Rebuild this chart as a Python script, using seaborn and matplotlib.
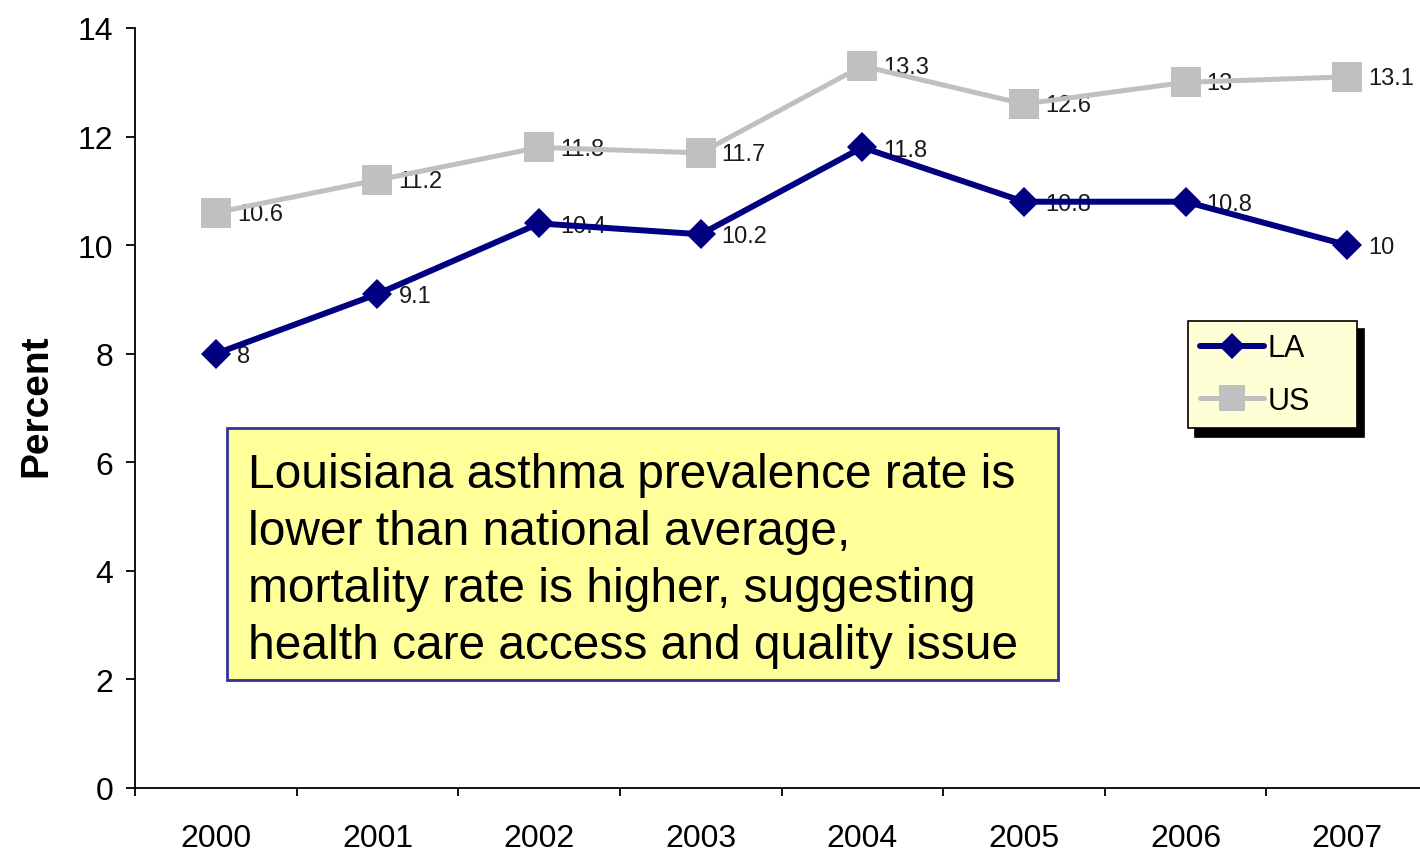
import numpy as np
import pandas as pd
import matplotlib
matplotlib.use('Agg')
import matplotlib.pyplot as plt
from matplotlib.patches import Rectangle
import seaborn as sns

#%% data
years = ['2000', '2001', '2002', '2003', '2004', '2005', '2006', '2007']
la_vals = [8, 9.1, 10.4, 10.2, 11.8, 10.8, 10.8, 10]
us_vals = [10.6, 11.2, 11.8, 11.7, 13.3, 12.6, 13, 13.1]
yticks = [0, 2, 4, 6, 8, 10, 12, 14]
note = ("Louisiana asthma prevalence rate is\n"
        "lower than national average,\n"
        "mortality rate is higher, suggesting\n"
        "health care access and quality issue")

df_la = pd.DataFrame({'pos': np.arange(len(years)), 'val': la_vals})
df_us = pd.DataFrame({'pos': np.arange(len(years)), 'val': us_vals})

#%% style
sns.set_style('ticks')
plt.rcParams['font.family'] = ['Liberation Sans', 'DejaVu Sans']

W, H = 1420, 854
fig = plt.figure(figsize=(W/100, H/100), dpi=100)
ax = fig.add_axes([135/W, 1-789/H, (W-135)/W, (789-29)/H])

navy = '#000080'
grey = '#c0c0c0'

sns.lineplot(data=df_us, x='pos', y='val', ax=ax, color=grey, linewidth=3.6,
             marker='s', markersize=21, markeredgewidth=0, label='US', zorder=3)
sns.lineplot(data=df_la, x='pos', y='val', ax=ax, color=navy, linewidth=4.3,
             marker='D', markersize=15, markeredgewidth=0, label='LA', zorder=4)

# data labels (drawn under the lines like the original)
for i, v in enumerate(us_vals):
    ax.text(i + 0.13, v - 0.02, f'{v:g}', fontsize=17, color='#1a1a1a',
            ha='left', va='center', zorder=2)
for i, v in enumerate(la_vals):
    ax.text(i + 0.13, v - 0.04, f'{v:g}', fontsize=17, color='#1a1a1a',
            ha='left', va='center', zorder=2)

ax.set_xlim(-0.5, 7.45)
ax.set_ylim(0, 14)
ax.set_yticks(yticks)
ax.set_yticklabels([str(t) for t in yticks], fontsize=23, color='black')
ax.set_xticks(np.arange(-0.5, 7.5, 1))
ax.set_xticklabels([])
ax.set_xticks(np.arange(len(years)), minor=True)
ax.set_xticklabels(years, minor=True, fontsize=23, color='black')
ax.tick_params(axis='x', which='major', length=6, width=1.3, direction='out', color='black')
ax.tick_params(axis='x', which='minor', length=0, pad=25)
ax.tick_params(axis='y', length=6.5, width=1.3, direction='out', pad=9, color='black')
sns.despine(ax=ax)
for s in ['left', 'bottom']:
    ax.spines[s].set_linewidth(1.3)
    ax.spines[s].set_color('black')
ax.set_xlabel('')
ax.set_ylabel('')
fig.text(36/W, 1-406/H, 'Percent', rotation=90, ha='center', va='center',
         fontsize=28, fontweight='bold', color='black')

# legend
handles, labels = ax.get_legend_handles_labels()
order = [labels.index('LA'), labels.index('US')]
leg = ax.legend([handles[i] for i in order], [labels[i] for i in order],
                loc='upper left',
                bbox_to_anchor=(1188/W, 1-322/H, (1357-1188)/W, 0),
                bbox_transform=fig.transFigure, borderaxespad=0, mode='expand',
                fontsize=22, frameon=True, fancybox=False, numpoints=1,
                handlelength=2.1, handletextpad=0.1, labelspacing=0.75,
                borderpad=0.4,
                shadow={'color': 'black', 'alpha': 1, 'ox': 5, 'oy': -6})
leg.get_frame().set_facecolor('#ffffd6')
leg.get_frame().set_edgecolor('black')
leg.get_frame().set_linewidth(1.2)
leg.get_frame().set_alpha(1)
for t in leg.get_texts():
    t.set_color('black')
for h in leg.legend_handles:
    h.set_markersize(h.get_markersize() * 0.9)

# note box
fig.patches.append(Rectangle((227/W, 1-681/H), (1058-227)/W, (681-429)/H,
                             transform=fig.transFigure, facecolor='#ffff99',
                             edgecolor='#333399', linewidth=2, zorder=5))
fig.text(248/W, 1-561/H, note, fontsize=34.5, ha='left', va='center',
         linespacing=1.34, color='black', zorder=6)

fig.savefig('out.png', dpi=100)
